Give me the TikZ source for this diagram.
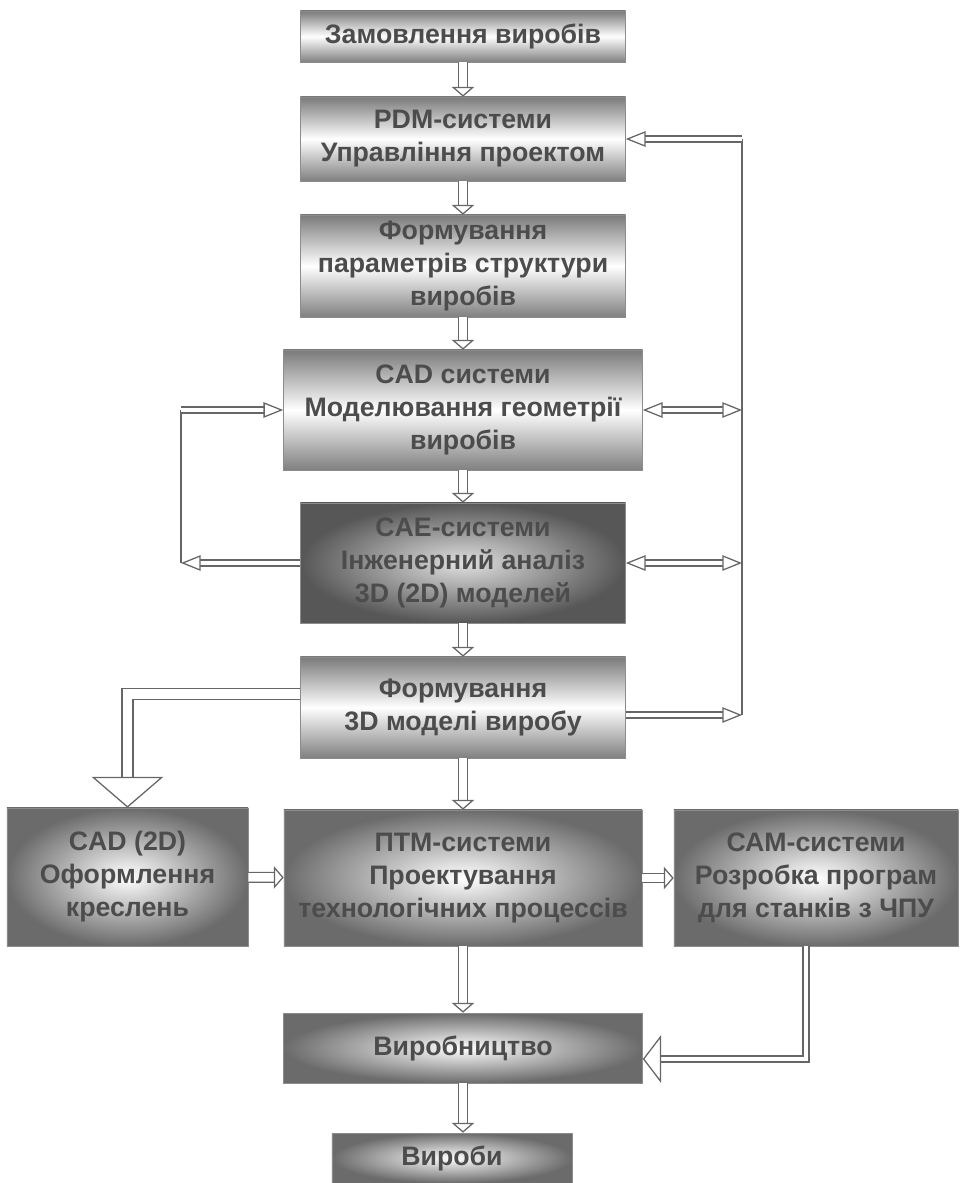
\documentclass[tikz,border=0pt]{standalone}
\usepackage{fontspec}
\setmainfont{Liberation Sans}
\usepackage{tikz}
\usetikzlibrary{arrows.meta, calc}

\tikzset{
  smallhead/.tip={Triangle[fill=white, length=7pt, width=16pt, line width=0.9pt]},
  longhead/.tip={Triangle[fill=white, length=14pt, width=11pt, line width=0.9pt]},
}

\begin{document}
\begin{tikzpicture}[
    x=0.025cm, y=-0.025cm,
    box/.style={draw=black!45, line width=0.4pt, text=black!70, align=center, inner sep=1pt,
                font=\fontsize{19}{23.5}\selectfont\bfseries},
    band/.style={box, top color=black!52, bottom color=black!50, middle color=white},
    glow/.style={box, inner color=white, outer color=black!58},
    dark/.style={box, inner color=black!12, outer color=black!66},
    pipe/.style={draw=black!60, line width=0.9pt, double=white},
    flow/.style={pipe, double distance=6pt, -smallhead},
    link/.style={pipe, double distance=3.4pt, -longhead},
    both/.style={pipe, double distance=3.4pt, longhead-longhead},
    wire/.style={draw=black!60, line width=0.9pt}
  ]
  \useasboundingbox (0,0) rectangle (960,1183);

  % main column
  \node[band, minimum width=8.125cm, minimum height=1.275cm] (order)  at (463,36.5) {Замовлення виробів};
  \node[band, minimum width=8.125cm, minimum height=2.1cm]   (pdm)    at (463,139)  {PDM-системи\\Управління проектом};
  \node[band, minimum width=8.125cm, minimum height=2.55cm]  (params) at (463,266)  {Формування\\параметрів структури\\виробів};
  \node[band, minimum width=8.975cm, minimum height=3cm]     (cad)    at (463,410)  {CAD системи\\Моделювання геометрії\\виробів};
  \node[dark, minimum width=8.125cm, minimum height=3cm]     (cae)    at (463,563)  {CAE-системи\\Інженерний аналіз\\3D (2D) моделей};
  \node[band, minimum width=8.125cm, minimum height=2.525cm] (model)  at (463,707.5) {Формування\\3D моделі виробу};
  \node[glow, minimum width=8.95cm, minimum height=3.4cm]    (ptm)    at (463,878)  {ПТМ-системи\\Проектування\\технологічних процессів};
  \node[glow, minimum width=8.975cm, minimum height=1.75cm]  (prod)   at (463,1048) {Виробництво};
  \node[glow, minimum width=6cm, minimum height=1.25cm]      (items)  at (452,1158) {Вироби};

  % side boxes
  \node[glow, minimum width=6.025cm, minimum height=3.45cm] (cad2d) at (127.5,877) {CAD (2D)\\Оформлення\\креслень};
  \node[glow, minimum width=7.1cm, minimum height=3.4cm]    (cam)   at (816,878)   {САМ-системи\\Розробка програм\\для станків з ЧПУ};

  % turning points
  \coordinate (rt) at (742,139);
  \coordinate (rc) at (742,410);
  \coordinate (re) at (742,563);
  \coordinate (rb) at (742,715);
  \coordinate (lt) at (181,410);
  \coordinate (lb) at (181,563);
  \coordinate (lk) at (127.5,694);
  \coordinate (rk) at (806,1059);

  \draw[flow] (order) -- (pdm);
  \draw[flow] (pdm) -- (params);
  \draw[flow] (params) -- (cad);
  \draw[flow] (cad) -- (cae);
  \draw[flow] (cae) -- (model);
  \draw[flow] (model) -- (ptm);
  \draw[flow] (ptm) -- (prod);
  \draw[flow] (prod.south) -- (prod.south |- items.north);
  \draw[flow] (cad2d) -- (ptm);
  \draw[flow] (ptm) -- (cam);

  % feedback on the right
  \draw[wire] (rt) -- (rb);
  \draw[link] (rt) -- (pdm.east);
  \draw[both] (cad.east) -- (rc);
  \draw[both] (cae.east) -- (re);
  \draw[link] (model.east |- rb) -- (rb);

  % loop on the left
  \draw[link] (cae.west) -- (lb);
  \draw[wire] (lb) -- (lt);
  \draw[link] (lt) -- (cad.west);

  % big arrows
  \draw[pipe, double distance=6.9pt,
        -{Triangle[fill=white, length=22pt, width=51pt, line width=0.9pt]}]
    (model.west |- lk) -- (lk) -- (cad2d.north);
  \draw[pipe, double distance=3.4pt,
        -{Triangle[fill=white, length=13pt, width=34pt, line width=0.9pt]}]
    (cam.south -| rk) -- (rk) -- (prod.east |- rk);
\end{tikzpicture}
\end{document}
